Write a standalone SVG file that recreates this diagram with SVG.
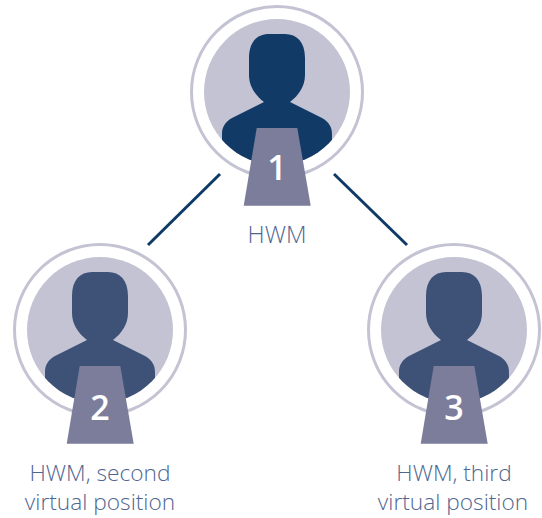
<svg xmlns="http://www.w3.org/2000/svg" width="542" height="518" viewBox="0 0 542 518">
<style>
.ring{fill:#fff;stroke:#c3c3d3;stroke-width:3}
.disc{fill:#c3c3d3}
.ped{fill:#7b7d9b}
.num{font-family:"Open Sans",sans-serif;font-weight:600;font-size:34px;fill:#fff;text-anchor:middle}
.lbl{font-family:"Open Sans",sans-serif;font-weight:300;font-size:22.7px;fill:#4f6690;text-anchor:middle}
.big{font-size:23.8px}
.link{stroke:#0f3a66;stroke-width:3;fill:none}
</style>
<defs>
<clipPath id="c"><circle r="73"/></clipPath>
<path id="person" clip-path="url(#c)" d="M-28-34C-28-50-20-58-8-58H8C20-58 28-50 28-34V-17C28-6 22 3 13 10L45 26C52 30 55 35 55 42V80H-55V42C-55 35-52 30-45 26L-13 10C-22 3-28-6-28-17Z"/>
<g id="base"><circle class="ring" r="85.5"/><circle class="disc" r="73"/></g>
<polygon id="pedestal" class="ped" points="-20.300,36 20.300,36 33.700,113.700 -33.300,113.700"/>
</defs>
<g id="connectors">
<line class="link" x1="220" y1="174" x2="148" y2="245"/>
<line class="link" x1="334" y1="174" x2="407" y2="245"/>
</g>
<g id="node-1" transform="translate(277 92)">
<use href="#base"/><use href="#person" fill="#123a66"/><use href="#pedestal"/>
<text class="num" y="88">1</text>
<text class="lbl big" y="150.500">HWM</text>
</g>
<g id="node-2" transform="translate(100 330)">
<use href="#base"/><use href="#person" fill="#3e5278"/><use href="#pedestal"/>
<text class="num" y="90">2</text>
<text class="lbl" y="150.500">HWM, second</text>
<text class="lbl" y="179.500">virtual position</text>
</g>
<g id="node-3" transform="translate(454 330)">
<use href="#base"/><use href="#person" fill="#3e5278"/><use href="#pedestal"/>
<text class="num" y="90">3</text>
<text class="lbl" y="150.500">HWM, third</text>
<text class="lbl" x="-1" y="179.500">virtual position</text>
</g>
</svg>
